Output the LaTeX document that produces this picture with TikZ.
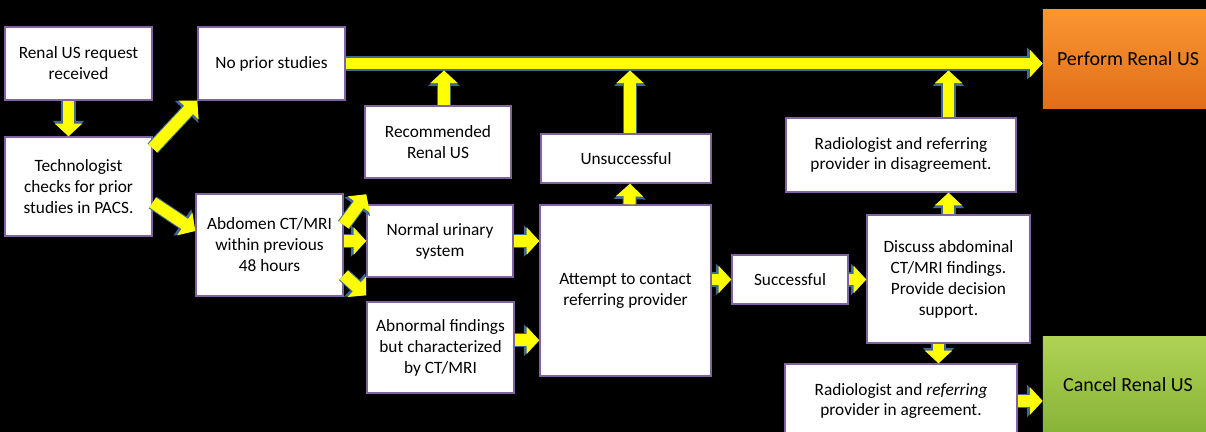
\documentclass[tikz,border=0pt]{standalone}
\usepackage{fontspec}
\setmainfont{Carlito}
\usetikzlibrary{arrows.meta}
\definecolor{boxedge}{RGB}{128,100,162}
\definecolor{arrowedge}{RGB}{65,105,150}
\definecolor{flowyellow}{RGB}{255,255,0}
\definecolor{orangetop}{RGB}{250,150,50}
\definecolor{orangebot}{RGB}{225,110,25}
\definecolor{greentop}{RGB}{175,210,85}
\definecolor{greenbot}{RGB}{135,180,55}
\begin{document}
\begin{tikzpicture}[
    x=0.025cm, y=-0.025cm,
    box/.style={rectangle, draw=boxedge, line width=1pt, fill=white, align=center, inner sep=1pt, font=\fontsize{12.3}{14.9}\selectfont},
    goal/.style={rectangle, draw=none, align=center, font=\fontsize{14.2}{17}\selectfont},
    flow/.style={draw=flowyellow, line width=8.5pt, -{Triangle[length=9pt, width=19pt]},
        preaction={draw=arrowedge, line width=10pt, -{Triangle[length=11pt, width=22pt]}}}
]
\useasboundingbox[fill=black] (0,0) rectangle (1206,432);

% Request and check
\node[box, minimum width=3.675cm, minimum height=1.825cm] (request) at (78.5,63.5) {Renal US request\\received};
\node[box, minimum width=3.675cm, minimum height=2.475cm] (check) at (78.5,186.5) {Technologist\\checks for prior\\studies in PACS.};

% Prior studies
\node[box, minimum width=3.675cm, minimum height=1.825cm] (noprior) at (271.5,63.5) {No prior studies};
\node[box, minimum width=3.675cm, minimum height=2.55cm] (recent) at (269.5,245) {Abdomen CT/MRI\\within previous\\48 hours};

% Findings
\node[box, minimum width=3.65cm, minimum height=1.8cm] (recommended) at (438,142) {Recommended\\Renal US};
\node[box, minimum width=3.65cm, minimum height=1.8cm] (normal) at (440,241) {Normal urinary\\system};
\node[box, minimum width=3.675cm, minimum height=2.275cm] (abnormal) at (440.5,347.5) {Abnormal findings\\but characterized\\by CT/MRI};

% Contact
\node[box, minimum width=4.25cm, minimum height=1.225cm] (unsuccessful) at (626,158.5) {Unsuccessful};
\node[box, minimum width=4.275cm, minimum height=4.275cm] (contact) at (625.5,290.5) {Attempt to contact\\referring provider};
\node[box, minimum width=2.9cm, minimum height=1.225cm] (successful) at (790,279.5) {Successful};

% Decision
\node[box, minimum width=4.075cm, minimum height=3.2cm] (discuss) at (948.5,279) {Discuss abdominal\\CT/MRI findings.\\Provide decision\\support.};
\node[box, minimum width=5.75cm, minimum height=1.85cm] (disagree) at (901,155) {Radiologist and referring\\provider in disagreement.};
\node[box, minimum width=5.8cm, minimum height=1.85cm] (agree) at (901,401) {Radiologist and \textit{referring}\\provider in agreement.};

% Outcomes
\node[goal, top color=orangetop, bottom color=orangebot, minimum width=4.25cm, minimum height=2.45cm] (perform) at (1128,59) {Perform Renal US};
\node[goal, top color=greentop, bottom color=greenbot, minimum width=4.25cm, minimum height=2.4cm] (cancel) at (1128,385) {Cancel Renal US};

% Arrows
\coordinate (trunk) at ([yshift=-0.175cm]noprior.east);
\draw[flow] ([xshift=-0.25cm]request.south) -- ([xshift=-0.25cm]check.north);
\draw[flow] ([yshift=-0.3cm]check.north east) -- (noprior.south west);
\draw[flow] ([yshift=-0.4cm]check.east) -- ([yshift=0.35cm]recent.west);
\draw[flow] (noprior.east) -- (noprior.east -| perform.west);
\draw[flow] ([yshift=0.5cm]recent.east) -- ([yshift=0.25cm]normal.north west);
\draw[flow] (recent.east |- normal.west) -- (normal.west);
\draw[flow] ([yshift=-0.75cm]recent.east) -- ([yshift=0.15cm]abnormal.north west);
\draw[flow] ([xshift=0.15cm]recommended.north) -- ([xshift=0.15cm]recommended.north |- trunk);
\draw[flow] (normal.east) -- (normal.east -| contact.west);
\draw[flow] ([yshift=0.18cm]abnormal.east) -- ([yshift=0.18cm]abnormal.east -| contact.west);
\draw[flow] ([xshift=0.1cm]contact.north) -- ([xshift=0.1cm]unsuccessful.south);
\draw[flow] ([xshift=0.1cm]unsuccessful.north) -- ([xshift=0.1cm]unsuccessful.north |- trunk);
\draw[flow] (contact.east |- successful.west) -- (successful.west);
\draw[flow] (successful.east) -- (successful.east -| discuss.west);
\draw[flow] (discuss.north) -- (discuss.north |- disagree.south);
\draw[flow] (disagree.north -| discuss.north) -- (trunk -| discuss.north);
\draw[flow] ([xshift=-0.25cm]discuss.south) -- ([xshift=-0.25cm]discuss.south |- agree.north);
\draw[flow] (agree.east) -- (agree.east -| cancel.west);

\end{tikzpicture}
\end{document}
